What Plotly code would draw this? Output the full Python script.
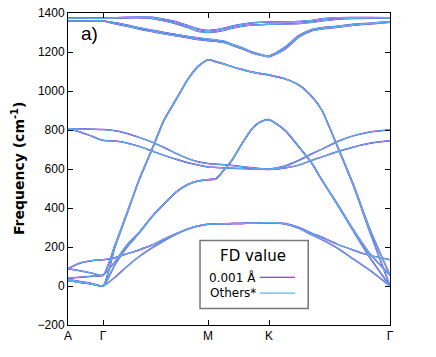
import plotly.graph_objects as go

# path coordinate (A - G - M - K - G) and the labels of the special points
q = [0, 12, 24, 35, 47, 59, 71, 84, 96, 108, 120, 130, 140, 148, 156, 164,
     174, 184, 192, 201, 217, 231, 244, 254, 269, 285, 302, 322]
k_pos = [0, 35, 140, 201, 322]
k_labels = ["A", "Γ", "M", "K", "Γ"]

# phonon bands (cm-1)
za = [28, 19, 10, 0,
      45, 100, 150, 195, 232, 265, 292, 308, 317,
      318, 319, 320, 321, 322, 323, 325,
      318, 296, 262, 238, 195, 140, 80, 0]
breathing = [89, 118, 130, 135,
             145, 165, 185, 210, 240, 268, 293, 308, 317,
             318, 319, 320, 321, 322, 323, 325,
             320, 300, 270, 250, 215, 185, 157, 135]
ta = [34, 23, 12, 0,
      110, 200, 270, 355, 420, 480, 520, 538, 545,
      550, 595, 645, 730, 807, 840, 853,
      798, 713, 628, 542, 420, 285, 145, 0]
ta_shear = [40, 45, 50, 55,
            125, 210, 275, 357, 422, 482, 522, 539, 545,
            550, 595, 645, 730, 807, 840, 853,
            798, 713, 628, 543, 425, 292, 165, 55]
la = [28, 19, 10, 0,
      200, 370, 542, 700, 849, 955, 1060, 1125, 1160,
      1150, 1138, 1125, 1110, 1097, 1090, 1082,
      1062, 1030, 970, 900, 720, 520, 275, 0]
la_shear = [89, 78, 66, 55,
            210, 375, 544, 702, 851, 957, 1062, 1127, 1160,
            1150, 1138, 1125, 1110, 1097, 1090, 1082,
            1062, 1030, 970, 900, 722, 525, 290, 55]
zo_upper = [807, 806, 804, 802,
            796, 782, 762, 738, 710, 680, 653, 637, 628,
            625, 622, 618, 612, 606, 602, 600,
            615, 645, 678, 702, 740, 770, 790, 800]
zo_lower = [807, 790, 768, 747,
            743, 733, 716, 692, 670, 650, 632, 620, 610,
            608, 606, 604, 602, 600, 599, 598,
            605, 620, 645, 662, 688, 712, 732, 745]
top1 = [1374, 1374, 1374, 1374,
        1376, 1378, 1380, 1378, 1368, 1355, 1335, 1318, 1310,
        1314, 1322, 1332, 1342, 1349, 1352, 1354,
        1355, 1357, 1362, 1370, 1376, 1377, 1377, 1376]
top2 = [1373, 1373, 1373, 1373,
        1374, 1375, 1376, 1372, 1360, 1345, 1325, 1306, 1300,
        1304, 1312, 1322, 1332, 1338, 1340, 1342,
        1343, 1346, 1352, 1360, 1368, 1372, 1373, 1373]
top3 = [1359, 1359, 1359, 1359,
        1350, 1338, 1325, 1312, 1300, 1290, 1280, 1272, 1266,
        1262, 1255, 1240, 1222, 1200, 1188, 1180,
        1225, 1285, 1316, 1325, 1332, 1342, 1348, 1356]
top4 = [1359, 1359, 1359, 1359,
        1345, 1332, 1318, 1305, 1293, 1283, 1273, 1264, 1258,
        1255, 1248, 1235, 1217, 1196, 1184, 1176,
        1215, 1278, 1309, 1318, 1327, 1337, 1344, 1352]

bands = [za, breathing, ta, ta_shear, la, la_shear,
         zo_upper, zo_lower, top1, top2, top3, top4]

fd_names = ["0.001 Å", "Others*"]
fd_colors = ["#9400d3", "#56b4e9"]
fd_widths = [1.5, 1.2]


def joined(bands):
    xs, ys = [], []
    for b in bands:
        xs += q + [None]
        ys += b + [None]
    return xs, ys


fig = go.Figure()
for name, color, width in zip(fd_names, fd_colors, fd_widths):
    xs, ys = joined(bands)
    fig.add_trace(go.Scatter(
        x=xs, y=ys, mode="lines", name=name, showlegend=False,
        line=dict(color=color, width=width, shape="spline", smoothing=0.6),
        connectgaps=False,
    ))

tick_font = dict(family="Liberation Sans, Arial, sans-serif", size=12, color="black")
axis_common = dict(showline=True, linecolor="black", linewidth=1, mirror="ticks",
                   ticks="inside", ticklen=5, tickcolor="black", showgrid=False,
                   zeroline=False, tickfont=tick_font, automargin=False,
                   ticklabeloverflow="allow")

# the page body adds 8px on the left and top, so the figure is 8px smaller
fig.update_layout(
    width=428, height=349,
    margin=dict(l=60, r=46, t=5, b=32),
    plot_bgcolor="white", paper_bgcolor="white",
    xaxis=dict(range=[0, 322], tickvals=k_pos, ticktext=k_labels, **axis_common),
    yaxis=dict(range=[-200, 1400], dtick=200, **axis_common),
)

# y title
fig.add_annotation(
    x=-0.155, y=0.5, xref="paper", yref="paper", showarrow=False, textangle=-90,
    xanchor="center", yanchor="middle",
    text="<b>Frequency (cm<sup>-1</sup>)</b>",
    font=dict(family="DejaVu Sans", size=14, color="black"),
)
# panel label
fig.add_annotation(
    x=0.034, y=0.935, xref="paper", yref="paper", showarrow=False,
    xanchor="left", yanchor="middle", text="a)",
    font=dict(family="Liberation Sans, Arial, sans-serif", size=19, color="black"),
)

# legend drawn by hand: text left of the line sample, as in the original
fig.add_shape(type="rect", xref="paper", yref="paper", x0=0.410, x1=0.746,
              y0=0.053, y1=0.271, line=dict(color="#777777", width=1.5),
              fillcolor="white", layer="above")
fig.add_annotation(
    x=0.575, y=0.220, xref="paper", yref="paper", showarrow=False,
    xanchor="center", yanchor="middle",
    text="FD value", font=dict(family="DejaVu Sans", size=15, color="black"),
)
for i, (name, color) in enumerate(zip(fd_names, fd_colors)):
    yy = 0.153 - i * 0.051
    fig.add_annotation(
        x=0.589, y=yy, xref="paper", yref="paper", showarrow=False,
        xanchor="right", yanchor="middle", text=name,
        font=dict(family="DejaVu Sans", size=12, color="black"),
    )
    fig.add_shape(type="line", xref="paper", yref="paper", x0=0.596, x1=0.705,
                  y0=yy, y1=yy, line=dict(color=color, width=1.2), layer="above")

fig.write_html("out.html")
